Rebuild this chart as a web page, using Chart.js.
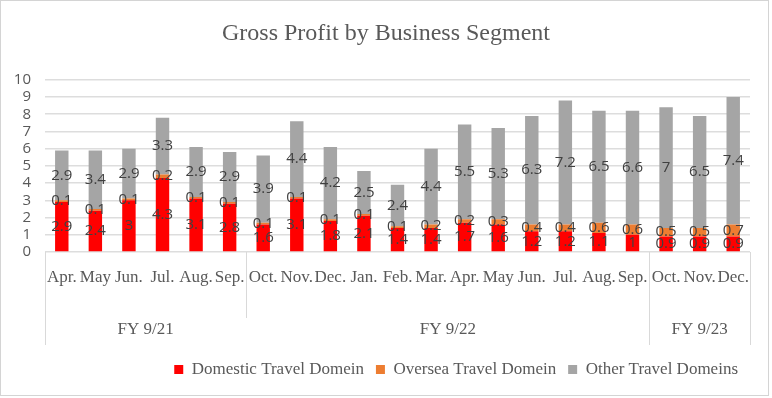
<!DOCTYPE html>
<html><head><meta charset="utf-8">
<script src="https://cdn.jsdelivr.net/npm/chart.js@4.4.0/dist/chart.umd.min.js"></script>
<style>html,body{margin:0;padding:0;background:#fff}canvas{display:block}</style>
</head><body>
<canvas id="c" width="772" height="398"></canvas>
<script>
const months = ['Apr.','May','Jun.','Jul.','Aug.','Sep.','Oct.','Nov.','Dec.','Jan.','Feb.','Mar.','Apr.','May','Jun.','Jul.','Aug.','Sep.','Oct.','Nov.','Dec.'];
const groupLabels = ['FY 9/21','FY 9/22','FY 9/23'];
const groupSizes = [6, 12, 3];
const domestic = [2.9,2.4,3,4.3,3.1,2.8,1.6,3.1,1.8,2.1,1.4,1.4,1.7,1.6,1.2,1.2,1.1,1,0.9,0.9,0.9];
const oversea  = [0.1,0.1,0.1,0.2,0.1,0.1,0.1,0.1,0.1,0.1,0.1,0.2,0.2,0.3,0.4,0.4,0.6,0.6,0.5,0.5,0.7];
const other    = [2.9,3.4,2.9,3.3,2.9,2.9,3.9,4.4,4.2,2.5,2.4,4.4,5.5,5.3,6.3,7.2,6.5,6.6,7,6.5,7.4];
const yTicks = [0,1,2,3,4,5,6,7,8,9,10];

const SERIF = '"Liberation Serif", "Times New Roman", serif';
const SANS = '"Open Sans", "Liberation Sans", sans-serif';
const TXT = '#595959';
const LINE = '#d9d9d9';

const valueLabels = {
  id: 'valueLabels',
  afterDatasetsDraw(chart) {
    const ctx = chart.ctx;
    ctx.save();
    ctx.font = '15px ' + SANS;
    ctx.fillStyle = '#404040';
    ctx.textAlign = 'center';
    ctx.textBaseline = 'middle';
    chart.data.datasets.forEach((ds, di) => {
      const meta = chart.getDatasetMeta(di);
      meta.data.forEach((el, i) => {
        const v = ds.data[i];
        ctx.fillText(String(v), el.x, (el.y + el.base) / 2);
      });
    });
    ctx.restore();
  }
};

const frame = {
  id: 'frame',
  afterDraw(chart) {
    const ctx = chart.ctx;
    const xs = chart.scales.x;
    const w = xs.width / months.length;
    ctx.save();
    ctx.strokeStyle = '#d4d4d4';
    ctx.lineWidth = 1;
    ctx.strokeRect(0.5, 0.5, 768, 395);
    ctx.strokeStyle = LINE;
    let b = [0], acc = 0;
    groupSizes.forEach(n => { acc += n; b.push(acc); });
    b.forEach((idx, k) => {
      const px = Math.round(xs.left + idx * w) + 0.5;
      const bottom = xs.top + (k === 1 ? 66 : 93);
      ctx.beginPath();
      ctx.moveTo(px, xs.top);
      ctx.lineTo(px, bottom);
      ctx.stroke();
    });
    ctx.font = '17px ' + SERIF;
    ctx.fillStyle = TXT;
    ctx.textAlign = 'center';
    ctx.textBaseline = 'middle';
    groupLabels.forEach((g, k) => {
      const cx = xs.left + (b[k] + b[k + 1]) / 2 * w;
      ctx.fillText(g, cx, xs.top + 78);
    });
    ctx.restore();
  }
};

new Chart(document.getElementById('c'), {
  type: 'bar',
  data: {
    labels: months,
    datasets: [
      { label: 'Domestic Travel Domein', data: domestic, backgroundColor: '#ff0000' },
      { label: 'Oversea Travel Domein', data: oversea, backgroundColor: '#ed7d31' },
      { label: 'Other Travel Domeins', data: other, backgroundColor: '#a5a5a5' }
    ]
  },
  options: {
    responsive: false,
    animation: false,
    devicePixelRatio: 1,
    layout: { autoPadding: false, padding: { left: 0, right: 0, top: 0, bottom: 10 } },
    datasets: { bar: { categoryPercentage: 1, barPercentage: 0.4 } },
    plugins: {
      title: {
        display: true,
        text: 'Gross Profit by Business Segment',
        color: TXT,
        font: { family: SERIF, size: 24, weight: 'normal' },
        padding: { top: 19, bottom: 32 }
      },
      legend: {
        position: 'bottom',
        align: 'end',
        fullSize: false,
        labels: {
          color: TXT,
          font: { family: SERIF, size: 17 },
          boxWidth: 9,
          boxHeight: 9,
          padding: 12
        }
      },
      tooltip: { enabled: false }
    },
    scales: {
      x: {
        stacked: true,
        grid: { display: false },
        border: { display: false },
        ticks: {
          color: TXT,
          font: { family: SERIF, size: 17 },
          autoSkip: false,
          maxRotation: 0,
          minRotation: 0,
          padding: 7
        },
        afterFit(s) { s.height = 97; }
      },
      y: {
        stacked: true,
        min: 0,
        max: 10,
        grid: { color: '#dddddd', lineWidth: 1.5, drawTicks: false },
        border: { display: false },
        ticks: {
          color: TXT,
          font: { family: SANS, size: 15 },
          padding: 14,
          autoSkip: false
        },
        afterBuildTicks(s) { s.ticks = yTicks.map(v => ({ value: v })); },
        afterFit(s) { s.width = 45; }
      },
      yR: {
        position: 'right',
        display: true,
        grid: { display: false },
        border: { display: false },
        ticks: { display: false },
        afterFit(s) { s.width = 22; }
      }
    }
  },
  plugins: [valueLabels, frame]
});
</script>
</body></html>
